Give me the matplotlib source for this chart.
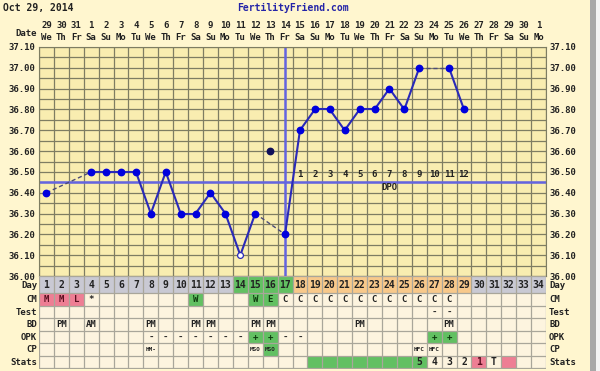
import matplotlib
matplotlib.use("Agg")
import matplotlib.pyplot as plt
from matplotlib.transforms import blended_transform_factory
from matplotlib.patches import Rectangle
import numpy as np

plt.rcParams['font.family'] = ['DejaVu Sans Mono', 'DejaVu Sans']
plt.rcParams['font.weight'] = 'bold'

# ---- data ----
chart_date = "Oct 29, 2014"
dates = [29, 30, 31, 1, 2, 3, 4, 5, 6, 7, 8, 9, 10, 11, 12, 13, 14, 15, 16,
         17, 18, 19, 20, 21, 22, 23, 24, 25, 26, 27, 28, 29, 30, 1]
weekdays = ['We', 'Th', 'Fr', 'Sa', 'Su', 'Mo', 'Tu', 'We', 'Th', 'Fr', 'Sa',
            'Su', 'Mo', 'Tu', 'We', 'Th', 'Fr', 'Sa', 'Su', 'Mo', 'Tu', 'We',
            'Th', 'Fr', 'Sa', 'Su', 'Mo', 'Tu', 'We', 'Th', 'Fr', 'Sa', 'Su', 'Mo']
temps = [36.40, None, None, 36.50, 36.50, 36.50, 36.50, 36.30, 36.50, 36.30,
         36.30, 36.40, 36.30, 36.10, 36.30, 36.60, 36.20, 36.70, 36.80, 36.80,
         36.70, 36.80, 36.80, 36.90, 36.80, 37.00, None, 37.00, 36.80]
discarded = [16]
open_days = [14]
coverline = 36.45
ovulation_day = 17
dpo_days = list(range(18, 30))

fertile_days = [14, 15, 16, 17]
luteal_days = list(range(18, 30))

cm = {1: 'M', 2: 'M', 3: 'L', 4: '*', 11: 'W', 15: 'W', 16: 'E', 17: 'C', 18: 'C',
      19: 'C', 20: 'C', 21: 'C', 22: 'C', 23: 'C', 24: 'C', 25: 'C', 26: 'C',
      27: 'C', 28: 'C'}
cm_pink = [1, 2, 3]
cm_green = [11, 15, 16]
test = {27: '-', 28: '-'}
bd = {2: 'PM', 4: 'AM', 8: 'PM', 11: 'PM', 12: 'PM', 15: 'PM', 16: 'PM',
      22: 'PM', 28: 'PM'}
opk = {8: '-', 9: '-', 10: '-', 11: '-', 12: '-', 13: '-', 14: '-', 15: '+',
       16: '+', 17: '-', 18: '-', 27: '+', 28: '+'}
opk_green = [15, 16, 27, 28]
cp = {8: 'HM-', 15: 'MSO', 16: 'MSO', 26: 'HFC', 27: 'HFC'}
cp_green = [16]
stats = {26: '5', 27: '4', 28: '3', 29: '2', 30: '1', 31: 'T'}
stats_green = [19, 20, 21, 22, 23, 24, 25, 26]
stats_pink = [30, 32]
row_names = ['Day', 'CM', 'Test', 'BD', 'OPK', 'CP', 'Stats']

# ---- layout (pixels) ----
W, H = 600, 371
L, R = 39, 546
T_TOP, T_BOT = 47, 276
TB_BOT = 368.5
row_h = [17, 12.5, 12.5, 12.5, 12.5, 12.5, 12.5]
ndays = len(dates)

bg = '#FFF6CF'
chart_bg = '#F9EDB0'
gridc = '#7E7D62'
table_bg = '#FDF4DF'
table_grid = '#A9A69A'
grey_cell = '#C9C9D3'
green_cell = '#62C062'
orange_cell = '#F8C98B'
pink_cell = '#EE7E94'
blue = '#0000DD'
line_blue = '#2A2AB8'
mark_blue = '#6464E0'

fig = plt.figure(figsize=(W / 100, H / 100), dpi=100)
fig.patch.set_facecolor(bg)

# ---- temperature chart ----
ax = fig.add_axes([L / W, 1 - T_BOT / H, (R - L) / W, (T_BOT - T_TOP) / H])
ax.set_facecolor(chart_bg)
ax.set_xlim(0.5, ndays + 0.5)
ax.set_ylim(36.0, 37.1)
for x in np.arange(0.5, ndays + 1):
    ax.axvline(x, color=gridc, lw=0.9, zorder=1)
for y in np.arange(36.0, 37.1001, 0.05):
    ax.axhline(y, color=gridc, lw=0.9, zorder=1)
for s in ax.spines.values():
    s.set_color(gridc)
ax.set_xticks([])
yt = np.arange(36.0, 37.1001, 0.1)
ax.set_yticks(yt)
ax.set_yticklabels([f"{v:.2f}" for v in yt])
ax.tick_params(axis='y', length=0, labelsize=6.5, pad=2.5, labelright=True,
               labelcolor='#222222')

ax.axhline(coverline, color=mark_blue, lw=1.8, zorder=2)
ax.axvline(ovulation_day, color=mark_blue, lw=1.8, zorder=2)

# connections
used = [(i + 1, t) for i, t in enumerate(temps)
        if t is not None and (i + 1) not in discarded]
for (d0, t0), (d1, t1) in zip(used[:-1], used[1:]):
    if d1 - d0 == 1:
        ax.plot([d0, d1], [t0, t1], color=line_blue, lw=1.5, zorder=3)
    else:
        ax.plot([d0, d1], [t0, t1], color='#4A4A78', lw=1.0, ls=(0, (3, 2)),
                zorder=3)
for d, t in used:
    if d in open_days:
        ax.plot(d, t, 'o', ms=4.2, mfc='white', mec=line_blue, mew=0.9, zorder=4)
    else:
        ax.plot(d, t, 'o', ms=4.6, color=blue, zorder=4)
for d in discarded:
    ax.plot(d, temps[d - 1], 'o', ms=4.6, color='#10105A', zorder=4)

for n, d in enumerate(dpo_days, start=1):
    ax.text(d, 36.487, str(n), ha='center', va='center', fontsize=6.5,
            color='#222222', zorder=5)
ax.text(np.mean(dpo_days) + 0.5, 36.423, 'DPO', ha='center', va='center',
        fontsize=6.5, color='#222222', zorder=5)

# dates on top
tr = blended_transform_factory(ax.transData, fig.transFigure)
for i, (dn, wd) in enumerate(zip(dates, weekdays)):
    ax.text(i + 1, 1 - 26 / H, str(dn), transform=tr, ha='center',
            va='center', fontsize=6.5, color='#222222', clip_on=False)
    ax.text(i + 1, 1 - 38 / H, wd, transform=tr, ha='center', va='center',
            fontsize=6.5, color='#222222', clip_on=False)
fig.text(37 / W, 1 - 33 / H, 'Date', ha='right', va='center', fontsize=6.5,
         color='#222222')
fig.text(3 / W, 1 - 8 / H, chart_date, ha='left', va='center', fontsize=7,
         color='#222222')
fig.text(293 / W, 1 - 8 / H, 'FertilityFriend.com', ha='center', va='center',
         fontsize=7, color='#2424A8')

# ---- table ----
tb = fig.add_axes([L / W, 1 - TB_BOT / H, (R - L) / W, (TB_BOT - T_BOT) / H])
tb.set_facecolor(table_bg)
tb.set_xlim(0.5, ndays + 0.5)
tb.set_ylim(TB_BOT, T_BOT)
tb.set_xticks([])
tb.set_yticks([])
for s in tb.spines.values():
    s.set_visible(False)

edges = np.concatenate([[T_BOT], T_BOT + np.cumsum(row_h)])
centers = (edges[:-1] + edges[1:]) / 2


def cell(day, row, color):
    tb.add_patch(Rectangle((day - 0.5, edges[row]), 1, row_h[row],
                           facecolor=color, edgecolor='none', zorder=1))


def write(day, row, s, size=6.5, color='#222222'):
    tb.text(day, centers[row] + 0.5, s, ha='center', va='center',
            fontsize=size, color=color, zorder=3)


for d in range(1, ndays + 1):
    if d in fertile_days:
        c = green_cell
    elif d in luteal_days:
        c = orange_cell
    else:
        c = grey_cell
    cell(d, 0, c)
    write(d, 0, str(d), size=7)
for d, s in cm.items():
    if d in cm_pink:
        cell(d, 1, pink_cell)
        write(d, 1, s, color='#5A1020')
    elif d in cm_green:
        cell(d, 1, green_cell)
        write(d, 1, s, color='#0E3A0E')
    else:
        write(d, 1, s)
for d, s in test.items():
    write(d, 2, s)
for d, s in bd.items():
    write(d, 3, s)
for d, s in opk.items():
    if d in opk_green:
        cell(d, 4, green_cell)
        write(d, 4, s, color='#0E3A0E')
    else:
        write(d, 4, s)
for d, s in cp.items():
    if d in cp_green:
        cell(d, 5, green_cell)
    write(d, 5, s, size=4.3)
for d in stats_green:
    cell(d, 6, green_cell)
for d in stats_pink:
    cell(d, 6, pink_cell)
for d, s in stats.items():
    write(d, 6, s, size=7, color='#5A1020' if d in stats_pink else '#222222')

for x in np.arange(0.5, ndays + 1):
    tb.axvline(x, color=table_grid, lw=0.9, zorder=2)
for y in edges:
    tb.axhline(y, color=table_grid, lw=0.9, zorder=2)

for r, name in enumerate(row_names):
    fig.text(37 / W, 1 - (centers[r] + 0.5) / H, name, ha='right',
             va='center', fontsize=6.5, color='#222222')
    fig.text(549 / W, 1 - (centers[r] + 0.5) / H, name, ha='left',
             va='center', fontsize=6.5, color='#222222')

# window frame at the right edge
fig.patches.append(Rectangle((590 / W, 0), 6 / W, 1, transform=fig.transFigure,
                             facecolor='#A8A8A8', edgecolor='none'))
fig.patches.append(Rectangle((596 / W, 0), 4 / W, 1, transform=fig.transFigure,
                             facecolor='#F4F4F4', edgecolor='none'))

fig.savefig('out.png', dpi=100, facecolor=bg)
